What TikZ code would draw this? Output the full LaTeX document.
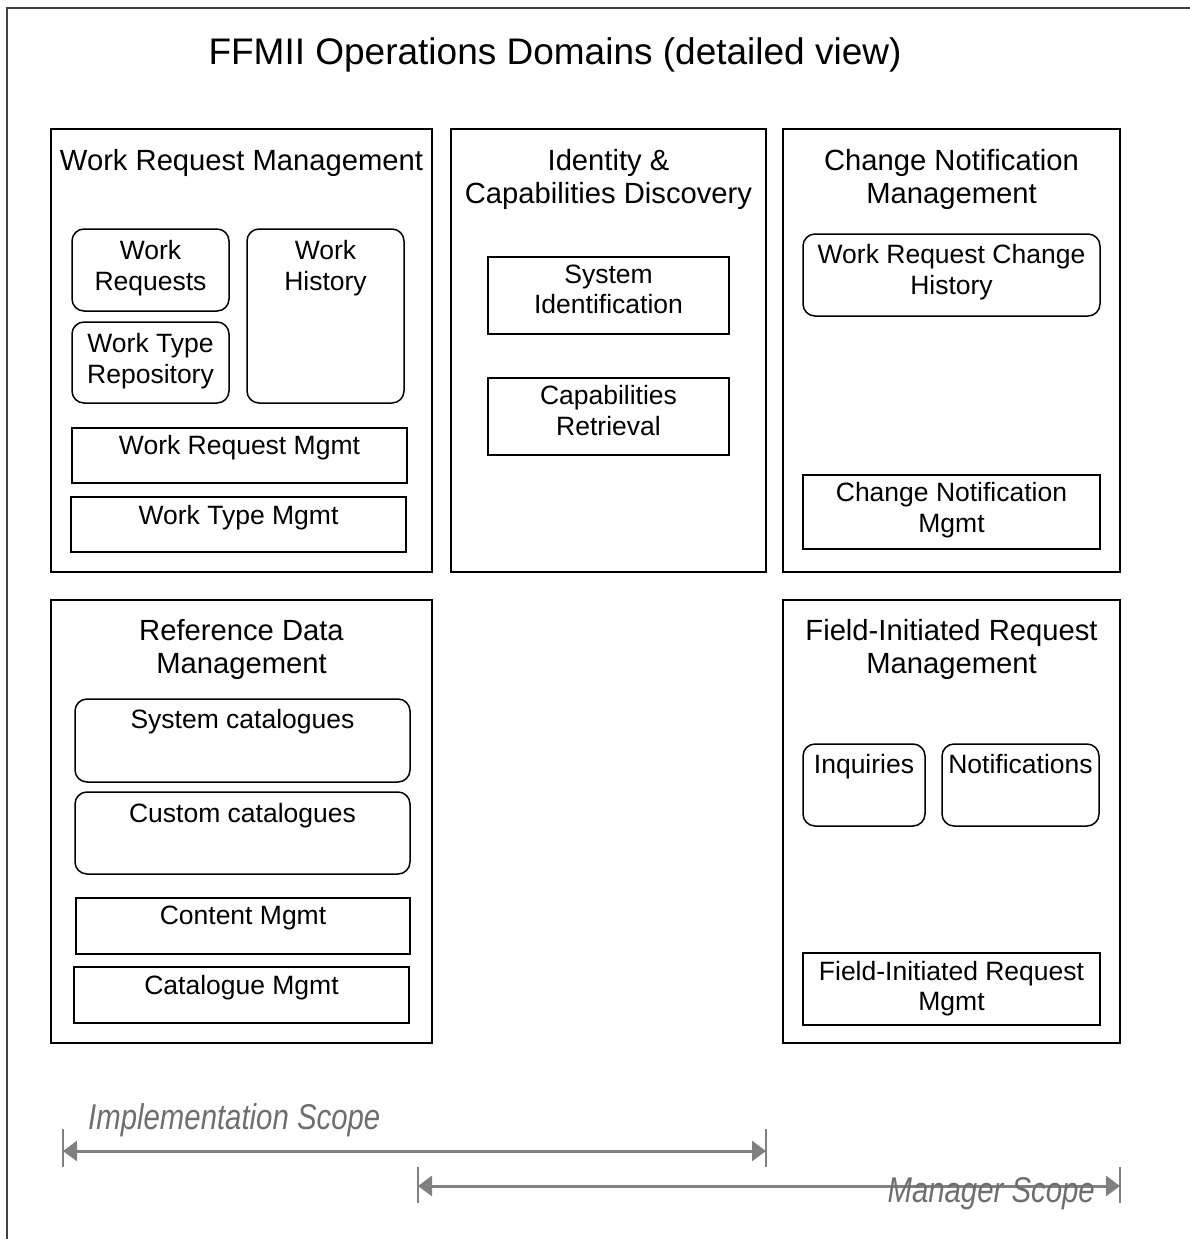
\documentclass[tikz,border=0pt]{standalone}
\usepackage{fontspec}
\setmainfont{Liberation Sans}
\usepackage{graphicx}
\usetikzlibrary{arrows.meta}

\definecolor{framegray}{HTML}{404040}
\definecolor{scopegray}{HTML}{808080}
\definecolor{labelgray}{HTML}{6E6E6E}

\begin{document}
\begin{tikzpicture}[x=1pt,y=-1pt,
  box/.style={draw=black, line width=1.5pt, inner sep=0pt},
  rbox/.style={box, rounded corners=12pt},
  % text placed by the baseline of its first line
  txt/.style={anchor=north, inner sep=0pt, yshift=24pt, align=center,
              execute at begin node=\rule{0pt}{24pt}},
  domtxt/.style={txt, font=\fontsize{29.2}{33}\selectfont},
  subtxt/.style={txt, font=\fontsize{26.5}{31}\selectfont},
  scope/.style={draw=scopegray, line width=3pt,
    {Triangle[length=14pt,width=20pt]}-{Triangle[length=14pt,width=20pt]}},
  scopetick/.style={draw=scopegray, line width=2pt},
  scopelabel/.style={inner sep=0pt, text=labelgray,
    font=\fontsize{35.8}{40}\selectfont\itshape}
]
\useasboundingbox (0,0) rectangle (1190,1239);

% open outer frame
\draw[framegray, line width=2.2pt] (1190,8) -- (7,8) -- (7,1239);

% heading
\node[anchor=base, inner sep=0pt, font=\fontsize{37}{42}\selectfont] (heading)
  at (555,64) {FFMII Operations Domains (detailed view)};

% ---- domain boxes ----
\node[box, minimum width=381pt, minimum height=443pt] (wrm)  at (241.5,350.5) {};
\node[box, minimum width=315pt, minimum height=443pt] (icd)  at (608.5,350.5) {};
\node[box, minimum width=337pt, minimum height=443pt] (cnm)  at (951.5,350.5) {};
\node[box, minimum width=381pt, minimum height=443pt] (rdm)  at (241.5,821.5) {};
\node[box, minimum width=337pt, minimum height=443pt] (firm) at (951.5,821.5) {};

\node[domtxt] (wrm-t)  at (241.5,170) {Work Request Management};
\node[domtxt] (icd-t)  at (608.5,173) {Identity \&\\Capabilities Discovery};
\node[domtxt] (cnm-t)  at (951.5,173) {Change Notification\\Management};
\node[domtxt] (rdm-t)  at (241.5,643) {Reference Data\\Management};
\node[domtxt] (firm-t) at (951.5,643) {Field-Initiated Request\\Management};

% ---- Work Request Management ----
\node[rbox, minimum width=157pt, minimum height=82pt]  (wreq)   at (150.5,270)   {};
\node[rbox, minimum width=157pt, minimum height=174pt] (whist)  at (325.5,316)   {};
\node[rbox, minimum width=157pt, minimum height=81pt]  (wtrepo) at (150.5,362.5) {};
\node[box,  minimum width=335pt, minimum height=55pt]  (wrmg)   at (239.5,455.5) {};
\node[box,  minimum width=335pt, minimum height=55pt]  (wtmg)   at (238.5,524.5) {};
\node[subtxt] (wreq-t)   at (150.5,264) {Work\\Requests};
\node[subtxt] (whist-t)  at (325.5,264) {Work\\History};
\node[subtxt] (wtrepo-t) at (150.5,357) {Work Type\\Repository};
\node[subtxt] (wrmg-t)   at (239.5,454) {Work Request Mgmt};
\node[subtxt] (wtmg-t)   at (238.5,524) {Work Type Mgmt};

% ---- Identity & Capabilities Discovery ----
\node[box, minimum width=241pt, minimum height=77pt] (sysid)  at (608.5,295.5) {};
\node[box, minimum width=241pt, minimum height=77pt] (capret) at (608.5,416.5) {};
\node[subtxt, font=\fontsize{26.5}{30}\selectfont] (sysid-t)  at (608.5,289) {System\\Identification};
\node[subtxt, font=\fontsize{26.5}{31}\selectfont] (capret-t) at (608.5,409) {Capabilities\\Retrieval};

% ---- Change Notification Management ----
\node[rbox, minimum width=297pt, minimum height=82pt] (wrch) at (951.5,275) {};
\node[box,  minimum width=297pt, minimum height=74pt] (cnmg) at (951.5,512) {};
\node[subtxt] (wrch-t) at (951.5,268) {Work Request Change\\History};
\node[subtxt] (cnmg-t) at (951.5,506) {Change Notification\\Mgmt};

% ---- Reference Data Management ----
\node[rbox, minimum width=335pt, minimum height=83pt] (syscat)  at (242.5,740.5) {};
\node[rbox, minimum width=335pt, minimum height=82pt] (custcat) at (242.5,833)   {};
\node[box,  minimum width=334pt, minimum height=56pt] (contmg)  at (243,926)     {};
\node[box,  minimum width=335pt, minimum height=56pt] (catmg)   at (241.5,995)   {};
\node[subtxt] (syscat-t)  at (242.5,728) {System catalogues};
\node[subtxt] (custcat-t) at (242.5,822) {Custom catalogues};
\node[subtxt] (contmg-t)  at (243,924)   {Content Mgmt};
\node[subtxt] (catmg-t)   at (241.5,994) {Catalogue Mgmt};

% ---- Field-Initiated Request Management ----
\node[rbox, minimum width=122pt, minimum height=82pt] (inq)   at (864,785)    {};
\node[rbox, minimum width=157pt, minimum height=82pt] (notif) at (1020.5,785) {};
\node[box,  minimum width=297pt, minimum height=72pt] (firmg) at (951.5,989)  {};
\node[subtxt] (inq-t)   at (864,773)    {Inquiries};
\node[subtxt] (notif-t) at (1020.5,773) {Notifications};
\node[subtxt, font=\fontsize{26.5}{30}\selectfont] (firmg-t) at (951.5,985) {Field-Initiated Request\\Mgmt};

% ---- scope markers ----
\coordinate (impL) at (63,1151);
\coordinate (impR) at (766,1151);
\coordinate (mgrL) at (418,1186);
\coordinate (mgrR) at (1120,1186);

\draw[scopetick] ([yshift=22pt]impL) -- ([yshift=-16pt]impL);
\draw[scopetick] ([yshift=22pt]impR) -- ([yshift=-16pt]impR);
\draw[scopetick] ([yshift=19pt]mgrL) -- ([yshift=-17pt]mgrL);
\draw[scopetick] ([yshift=19pt]mgrR) -- ([yshift=-17pt]mgrR);
\draw[scope] (impL) -- (impR);
\draw[scope] (mgrL) -- (mgrR);

\node[scopelabel, anchor=base west] (imp-t) at (88,1129)
  {\scalebox{0.82}[1]{Implementation Scope}};
\node[scopelabel, anchor=base east] (mgr-t) at (1095,1202)
  {\scalebox{0.82}[1]{Manager Scope}};
\end{tikzpicture}
\end{document}
